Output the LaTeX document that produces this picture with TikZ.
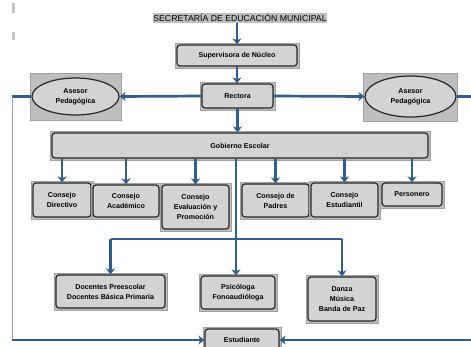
\documentclass[tikz,border=0pt]{standalone}
\usepackage{fontspec}
\setmainfont{Liberation Sans}
\usetikzlibrary{arrows.meta,shapes.geometric}
\definecolor{ln}{HTML}{2F5E8E}
\definecolor{bx}{HTML}{D3D3D3}
\definecolor{sh}{HTML}{BEBEBE}
\newcommand\mybox[6]{%
  \node[shbox, minimum width=#4pt+4pt, minimum height=#5pt+4pt] (#1o) at (#2,#3) {};
  \node[inbox, minimum width=#4pt, minimum height=#5pt] (#1) at (#2,#3) {#6};
}
\begin{document}
\begin{tikzpicture}[x=1pt,y=-1pt,
  inbox/.style={draw=black!85, line width=1.2pt, rounded corners=3pt, fill=bx, inner sep=1pt, align=center, font=\bfseries\fontsize{7.1}{10}\selectfont},
  shbox/.style={fill=sh, draw=sh!85!black, line width=0.4pt, inner sep=0pt},
  ell/.style={ellipse, draw=black!85, line width=1.2pt, fill=bx, inner sep=0pt, align=center, font=\bfseries\fontsize{7.1}{10}\selectfont},
  conn/.style={draw=ln, line width=2.7pt, -{Stealth[length=6pt,width=9pt,inset=1.8pt]}},
  plainln/.style={draw=ln, line width=2.7pt},
  thinln/.style={draw=gray!75, line width=0.8pt}]
\useasboundingbox[fill=white] (0,0) rectangle (471,346);
% small gray marks
\fill[gray!45] (12,3) rectangle (15,13);
\fill[gray!45] (12,32) rectangle (15,40);
% title
\node[fill=sh, inner sep=0.8pt, font=\fontsize{8.7}{10}\selectfont] (title) at (240,18) {SECRETARÍA DE EDUCACIÓN MUNICIPAL};
% boxes
\mybox{sup}{237}{55.5}{120}{21}{Supervisora de Núcleo}
\mybox{rec}{237.5}{96}{71}{24}{Rectora}
\node[shbox, minimum width=91pt, minimum height=47pt] (asLo) at (75.5,96.5) {};
\node[ell, minimum width=87pt, minimum height=37pt] (asL) at (75.5,96.5) {Asesor\\Pedagógica};
\node[shbox, minimum width=94pt, minimum height=48pt] (asRo) at (410,97) {};
\node[ell, minimum width=91pt, minimum height=41pt] (asR) at (410.5,96.5) {Asesor\\Pedagógica};
\mybox{gob}{240}{145.5}{376}{25}{Gobierno Escolar}
\mybox{dir}{62}{200}{58}{34}{Consejo\\Directivo}
\mybox{aca}{126}{201}{66}{32}{Consejo\\Académico}
\mybox{eva}{195.5}{207}{67}{44}{Consejo\\Evaluación y\\Promoción}
\mybox{pad}{275.5}{200.5}{67}{33}{Consejo de\\Padres}
\mybox{estu}{344.5}{200}{67}{34}{Consejo\\Estudiantil}
\mybox{per}{412}{194.5}{60}{23}{Personero}
\mybox{doc}{110.5}{291.5}{109}{33}{Docentes Preescolar\\Docentes Básica Primaria}
\mybox{psi}{238}{292.5}{74}{33}{Psicóloga\\Fonoaudióloga}
\mybox{dan}{342}{299}{68}{44}{Danza\\Música\\Banda de Paz}
\mybox{est}{242}{340}{74}{22}{Estudiante}
% coordinates
\coordinate (L1) at (12,96.5);
\coordinate (L2) at (12,340);
\coordinate (R1) at (471,96.5);
\coordinate (R2) at (471,340);
\coordinate (bc) at (236,239);
\coordinate (bl) at (110.5,239);
\coordinate (br) at (342,239);
% connectors
\draw[conn] (title.south -| sup.north) -- (sup.north);
\draw[conn] (sup.south) -- (sup.south |- rec.north);
\draw[conn] (rec.west) -- (asL.east);
\draw[conn] (rec.east) -- (asR.west);
\draw[plainln] (asL.west) -- (L1);
\draw[plainln] (asR.east) -- (R1);
\draw[thinln] (L1) -- (L2);
\draw[conn] (rec.south) -- (rec.south |- gob.north);
\foreach \n in {dir,aca,eva,pad,estu,per}
  \draw[conn] (gob.south -| \n.north) -- (\n.north);
\draw[plainln] (gob.south -| bc) -- (bc);
\draw[plainln] (bl) -- (br);
\draw[conn] (bl) -- (bl |- doc.north);
\draw[conn] (bc) -- (bc |- psi.north);
\draw[conn] (br) -- (br |- dan.north);
\draw[conn] (L2) -- (est.west);
\draw[conn] (R2) -- (est.east);
\end{tikzpicture}
\end{document}
